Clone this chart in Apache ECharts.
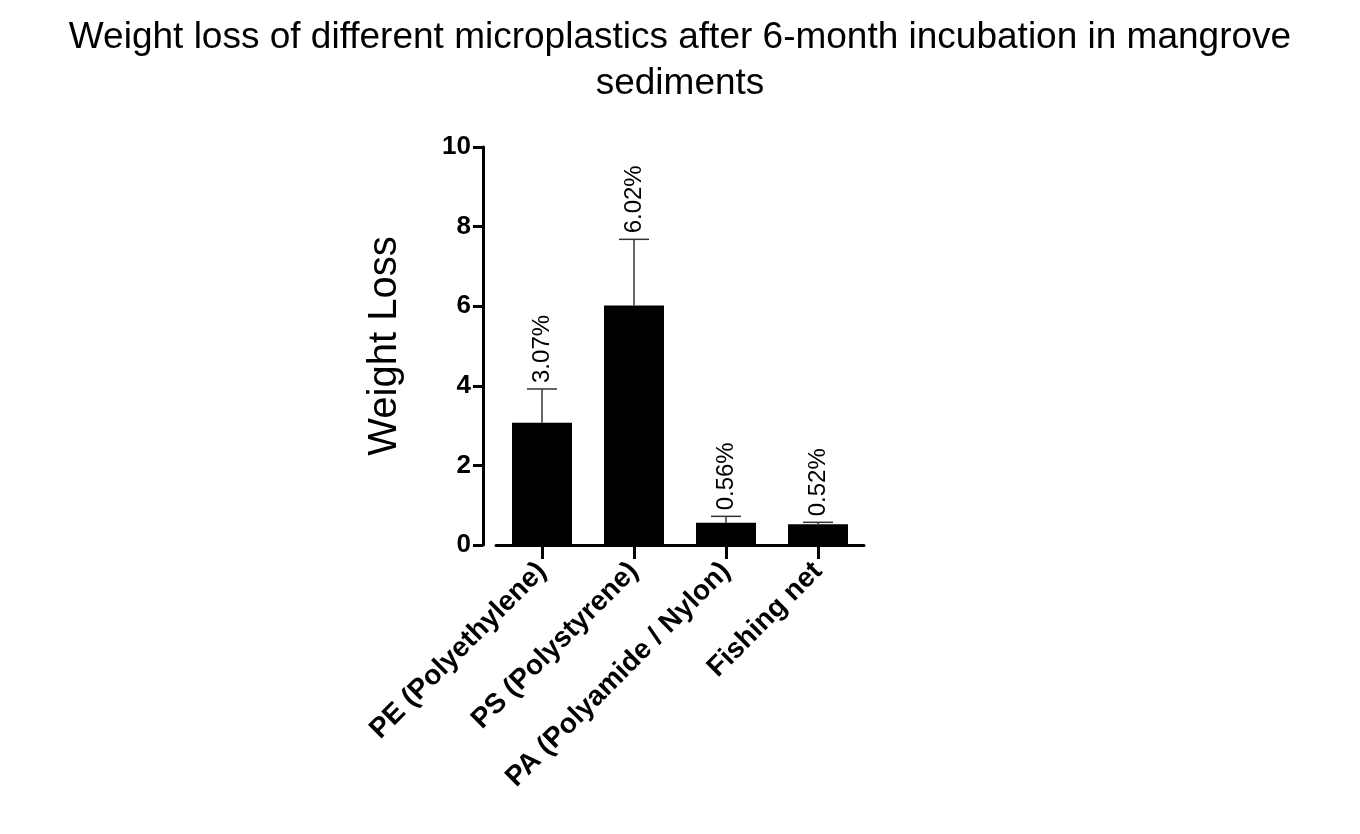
<!DOCTYPE html>
<html>
<head>
<meta charset="utf-8">
<script src="https://cdn.jsdelivr.net/npm/echarts@6/dist/echarts.min.js"></script>
<style>html,body{margin:0;background:#fff}#c{width:1360px;height:834px}</style>
</head>
<body>
<div id="c"></div>
<script>
var categories = ['PE (Polyethylene)', 'PS (Polystyrene)', 'PA (Polyamide / Nylon)', 'Fishing net'];
var values = [3.07, 6.02, 0.56, 0.52];
var errUpper = [3.92, 7.68, 0.72, 0.57];
var valueLabels = ['3.07%', '6.02%', '0.56%', '0.52%'];

var font = 'Liberation Sans, Arial, sans-serif';
var chart = echarts.init(document.getElementById('c'));
chart.setOption({
    animation: false,
    title: {
        text: 'Weight loss of different microplastics after 6-month incubation in mangrove\nsediments',
        left: 'center',
        top: 10,
        textStyle: { fontFamily: font, fontWeight: 'normal', fontSize: 37, lineHeight: 46, color: '#000' }
    },
    grid: { left: 496, top: 147, width: 368, height: 398 },
    xAxis: {
        type: 'category',
        data: categories,
        axisLine: { lineStyle: { color: '#000', width: 3 } },
        axisTick: { show: true, interval: 0, alignWithLabel: true, length: 14, lineStyle: { color: '#000', width: 3 } },
        axisLabel: { interval: 0, rotate: 45, fontFamily: font, fontWeight: 'bold', fontSize: 28, color: '#000', margin: 22 }
    },
    yAxis: {
        type: 'value',
        min: 0, max: 10, interval: 2,
        offset: 13,
        name: 'Weight Loss',
        nameLocation: 'middle',
        nameGap: 78,
        nameTextStyle: { fontFamily: font, fontSize: 40, color: '#000' },
        splitLine: { show: false },
        axisLine: { show: true, lineStyle: { color: '#000', width: 3 } },
        axisTick: { show: true, length: 10, lineStyle: { color: '#000', width: 3 } },
        axisLabel: { fontFamily: font, fontWeight: 'bold', fontSize: 26, color: '#000', margin: 12 }
    },
    series: [{
        type: 'bar',
        data: values,
        barWidth: 60,
        itemStyle: { color: '#000' }
    }, {
        type: 'custom',
        data: categories.map(function (c, i) { return [i, values[i], errUpper[i]]; }),
        renderItem: function (params, api) {
            var base = api.coord([api.value(0), api.value(1)]);
            var top = api.coord([api.value(0), api.value(2)]);
            var x = base[0];
            return {
                type: 'group',
                children: [
                    { type: 'line', shape: { x1: x, y1: base[1], x2: x, y2: top[1] }, style: { stroke: '#333', lineWidth: 1.5 } },
                    { type: 'line', shape: { x1: x - 15, y1: top[1], x2: x + 15, y2: top[1] }, style: { stroke: '#333', lineWidth: 1.5 } },
                    { type: 'text', x: x, y: top[1] - 6, rotation: Math.PI / 2,
                      style: { text: valueLabels[params.dataIndex], fill: '#000', font: '24px ' + font, align: 'left', verticalAlign: 'middle' } }
                ]
            };
        },
        z: 5
    }]
});
</script>
</body>
</html>
